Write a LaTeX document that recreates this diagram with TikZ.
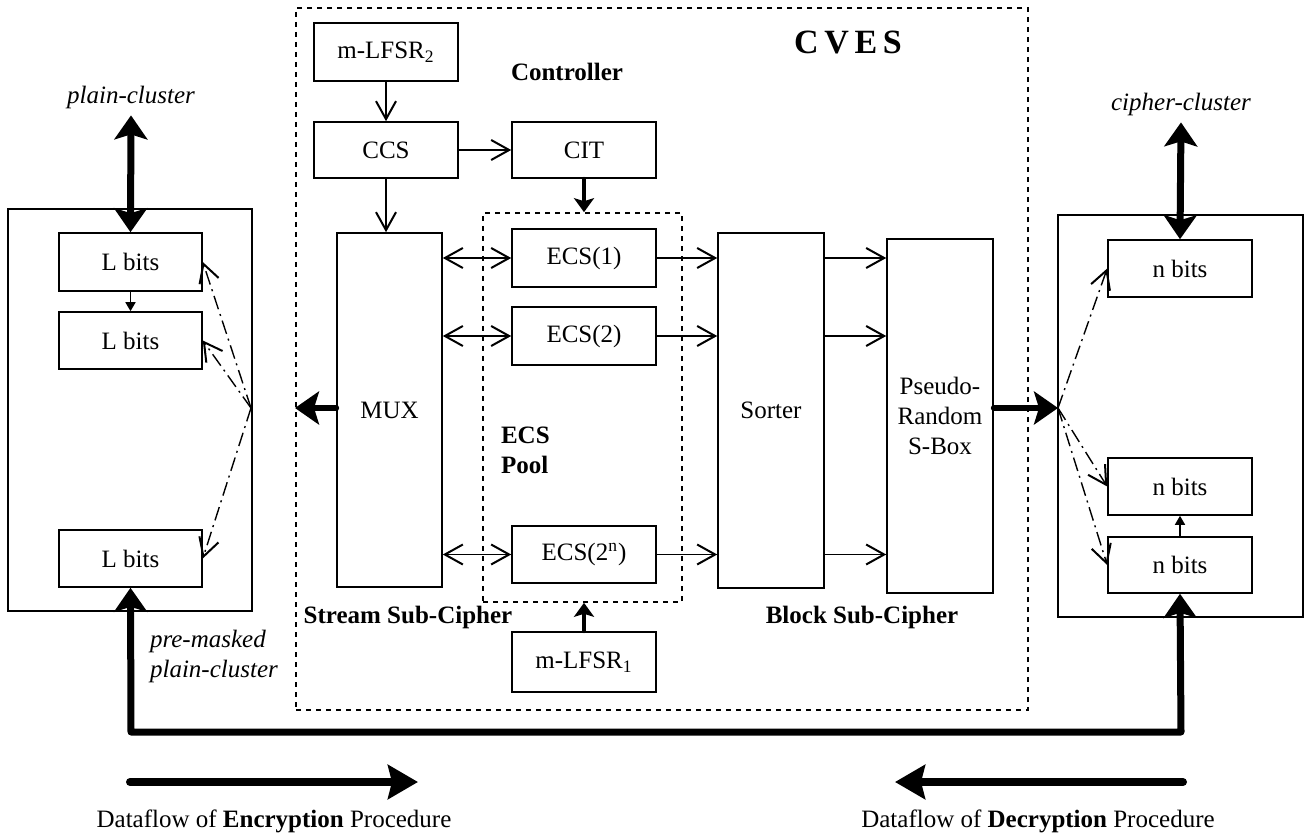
\documentclass[tikz,border=0pt]{standalone}
\usepackage{fontspec}
\setmainfont{Liberation Serif}
\usetikzlibrary{arrows.meta}

\tikzset{
  box/.style={draw, line width=0.8pt, inner sep=0pt, font=\fontsize{12.5}{15}\selectfont, align=center},
  frame/.style={draw, line width=0.8pt},
  dashframe/.style={draw, line width=0.8pt, dash pattern=on 2.5pt off 2.5pt},
  barb/.tip={Straight Barb[length=9pt,width=10pt,line width=1pt]},
  fathead/.tip={Stealth[length=12pt,width=16.5pt,inset=2.5pt]},
  thin arrow/.style={line width=0.8pt, -barb},
  both arrow/.style={line width=0.8pt, barb-barb},
  fan arrow/.style={line width=0.7pt, dash pattern=on 7pt off 2.5pt on 1pt off 2.5pt, -barb},
  small arrow/.style={line width=0.8pt, -{Triangle[length=4.5pt,width=5pt]}},
  fat arrow/.style={line width=3pt, line cap=round, -fathead},
  fat both/.style={line width=3.5pt, line cap=round, line join=round, fathead-fathead},
  mid arrow/.style={line width=2pt, line cap=round, -{Stealth[length=7pt,width=10pt,inset=1.5pt]}},
  lbl/.style={font=\fontsize{12.5}{15}\selectfont\bfseries},
  ilbl/.style={font=\fontsize{12.5}{15}\selectfont\itshape}
}

\begin{document}
\begin{tikzpicture}[x=0.5pt,y=-0.5pt]
    \useasboundingbox (0,0) rectangle (1306,834);

    % CVES frame and pool
    \node[dashframe, minimum width=366pt, minimum height=351pt] (cves) at (662,359) {};
    \node[dashframe, minimum width=99.5pt, minimum height=194.5pt] (pool) at (582.5,407.5) {};
    \node[font=\fontsize{17}{20}\selectfont\bfseries] (cveslbl) at (848,43) {C\,V\,E\,S};

    % Controller
    \node[box, minimum width=72pt, minimum height=29pt] (lfsrb) at (386,52) {m-LFSR\textsubscript{2}};
    \node[box, minimum width=72pt, minimum height=28pt] (ccs) at (386,150) {CCS};
    \node[box, minimum width=72pt, minimum height=28pt] (cit) at (584,150) {CIT};
    \node[lbl] (ctrl) at (567,72) {Controller};

    % Stream sub-cipher
    \node[box, minimum width=52.5pt, minimum height=177pt] (mux) at (389.5,410) {MUX};
    \node[box, minimum width=72pt, minimum height=29pt] (ecsa) at (584,258) {ECS(1)};
    \node[box, minimum width=72pt, minimum height=29pt] (ecsb) at (584,336) {ECS(2)};
    \node[box, minimum width=72pt, minimum height=28.5pt] (ecsn) at (584,554.5) {ECS(2\textsuperscript{n})};
    \node[box, minimum width=72pt, minimum height=30pt] (lfsra) at (584,662) {m-LFSR\textsubscript{1}};
    \node[lbl, anchor=west, align=left] (poollbl) at (494,450) {ECS\\Pool};
    \node[lbl] (streamlbl) at (408,617) {Stream Sub-Cipher};

    % Block sub-cipher
    \node[box, minimum width=53pt, minimum height=177.5pt] (sorter) at (771,410.5) {Sorter};
    \node[box, minimum width=53pt, minimum height=177pt] (sbox) at (940,416) {Pseudo-\\Random\\S-Box};
    \node[lbl] (blocklbl) at (862,617) {Block Sub-Cipher};

    % Plain side
    \node[frame, minimum width=122pt, minimum height=201pt] (plainbox) at (130,410) {};
    \node[box, minimum width=71.5pt, minimum height=29pt] (lbita) at (130.5,262) {L bits};
    \node[box, minimum width=71.5pt, minimum height=28.5pt] (lbitb) at (130.5,340.5) {L bits};
    \node[box, minimum width=71.5pt, minimum height=28.5pt] (lbitc) at (130.5,558.5) {L bits};
    \node[ilbl] (plainlbl) at (131,97) {plain-cluster};
    \node[ilbl, anchor=west, align=left] (premask) at (143,656) {pre-masked\\plain-cluster};

    % Cipher side
    \node[frame, minimum width=122.5pt, minimum height=201pt] (cipherbox) at (1180.5,416) {};
    \node[box, minimum width=72pt, minimum height=28.5pt] (nbita) at (1180,268.5) {n bits};
    \node[box, minimum width=72pt, minimum height=28.5pt] (nbitb) at (1180,486.5) {n bits};
    \node[box, minimum width=72pt, minimum height=28pt] (nbitc) at (1180,565) {n bits};
    \node[ilbl] (cipherlbl) at (1181,104) {cipher-cluster};

    % Fan points and loop corners
    \coordinate (lfan) at (251,408);
    \coordinate (rfan) at (1058,408);
    \coordinate (loopl) at (131,732);
    \coordinate (loopr) at (1181,732);

    % Thin connectors
    \draw[thin arrow] (lfsrb) -- (ccs);
    \draw[thin arrow] (ccs) -- (cit);
    \draw[thin arrow] (ccs) -- (ccs |- mux.north);
    \foreach \e in {ecsa,ecsb,ecsn} {
        \draw[both arrow] (mux.east |- \e) -- (\e.west);
        \draw[thin arrow] (\e.east) -- (sorter.west |- \e);
        \draw[thin arrow] (sorter.east |- \e) -- (sbox.west |- \e);
    }
    \draw[small arrow] (lbita) -- (lbitb);
    \draw[small arrow] (nbitc) -- (nbitb);

    % Dash-dot fans
    \foreach \b in {lbita,lbitb,lbitc} {
        \draw[fan arrow] (lfan) -- (\b.east);
    }
    \foreach \b in {nbita,nbitb,nbitc} {
        \draw[fan arrow] (rfan) -- (\b.west);
    }

    % Thick connectors
    \draw[mid arrow] (cit) -- (cit |- pool.north);
    \draw[mid arrow] (lfsra) -- (lfsra |- pool.south);
    \draw[fat arrow] (mux.west |- lfan) -- ([xshift=22]lfan);
    \draw[fat arrow] (sbox.east |- rfan) -- (rfan);
    \draw[fat both] (plainlbl.south) -- (lbita.north);
    \draw[fat both] (cipherlbl.south) -- (nbita.north);
    \draw[fat both] (lbitc.south) -- (loopl) -- (loopr) -- (nbitc.south);

    % Dataflow legend
    \coordinate (encs) at (130,782);
    \coordinate (ence) at (418,782);
    \coordinate (decs) at (1183,782);
    \coordinate (dece) at (895,782);
    \draw[fat arrow, line width=4pt, -{Stealth[length=15pt,width=17pt,inset=2pt]}] (encs) -- (ence);
    \draw[fat arrow, line width=4pt, -{Stealth[length=15pt,width=17pt,inset=2pt]}] (decs) -- (dece);
    \node[font=\fontsize{12.5}{15}\selectfont] (enclbl) at (274,821) {Dataflow of \textbf{Encryption} Procedure};
    \node[font=\fontsize{12.5}{15}\selectfont] (declbl) at (1038,821) {Dataflow of \textbf{Decryption} Procedure};
\end{tikzpicture}
\end{document}
